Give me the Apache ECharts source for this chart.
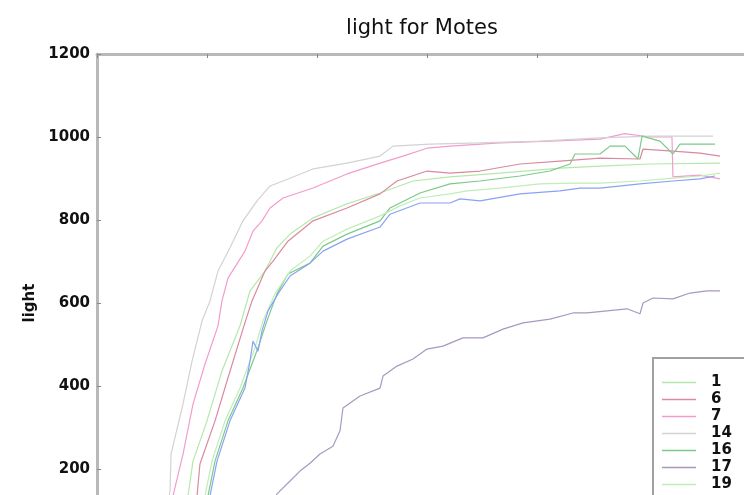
<!DOCTYPE html>
<html>
<head>
<meta charset="utf-8">
<script src="https://cdn.jsdelivr.net/npm/echarts@6/dist/echarts.min.js"></script>
<style>
html,body{margin:0;padding:0;background:#fff;overflow:hidden;width:744px;height:495px;}
#wrap{position:absolute;left:0;top:0;width:744px;height:495px;overflow:hidden;}
#chart{position:absolute;left:0;top:0;width:844px;height:640px;}
</style>
</head>
<body>
<div id="wrap"><div id="chart"></div></div>
<script>
const moteNames = ['1', '6', '7', '14', '16', '17', '19', '20'];
const legendNames = ['1', '6', '7', '14', '16', '17', '19'];
const moteColors = ['#b4e8aa', '#d98a9e', '#f29ccd', '#d2d2d2', '#7cc98a', '#a898c0', '#bfeeb6', '#8aa2f5'];
const yTicks = [0, 200, 400, 600, 800, 1000, 1200];

const mote1 = [[0.782,51],[0.827,135],[0.873,219],[1.000,316],[1.136,436],[1.300,545],[1.391,629],[1.527,677],[1.636,733],[1.755,766],[1.964,805],[2.273,839],[2.573,865],[2.873,894],[3.209,904],[3.664,913],[4.209,925],[4.573,930],[5.027,935],[5.664,937]];
const mote6 = [[0.864,51],[0.909,135],[0.936,212],[1.073,316],[1.182,412],[1.336,545],[1.409,605],[1.527,677],[1.600,701],[1.736,749],[1.964,798],[2.273,829],[2.573,863],[2.727,894],[3.000,918],[3.209,913],[3.482,918],[3.845,935],[4.209,942],[4.573,949],[4.936,947],[4.964,971],[5.236,966],[5.482,961],[5.664,954]];
const mote7 = [[0.645,63],[0.691,135],[0.782,236],[0.873,357],[0.982,453],[1.100,545],[1.136,605],[1.191,660],[1.345,725],[1.418,773],[1.500,798],[1.573,829],[1.691,853],[1.964,877],[2.273,911],[2.573,937],[2.782,954],[3.000,973],[3.209,978],[3.664,986],[4.118,990],[4.573,995],[4.800,1008],[5.027,1000],[5.227,1000],[5.236,904],[5.482,908],[5.664,899]];
const mote14 = [[0.591,51],[0.664,147],[0.673,236],[0.782,357],[0.864,460],[0.955,557],[1.027,605],[1.100,677],[1.209,733],[1.327,798],[1.455,846],[1.573,882],[1.691,894],[1.964,923],[2.273,937],[2.573,954],[2.691,978],[3.027,983],[3.482,986],[4.027,990],[4.573,998],[5.027,1002],[5.600,1002]];
const mote16 = [[0.964,51],[1.009,135],[1.073,219],[1.191,316],[1.327,395],[1.464,492],[1.545,557],[1.636,622],[1.736,670],[1.936,696],[2.055,737],[2.273,766],[2.573,798],[2.664,829],[2.936,865],[3.209,887],[3.482,894],[3.845,906],[4.118,918],[4.300,935],[4.345,959],[4.573,959],[4.664,978],[4.800,978],[4.918,947],[4.955,1002],[5.118,990],[5.236,959],[5.300,983],[5.618,983]];
const mote17 = [[1.573,99],[1.636,140],[1.755,171],[1.845,195],[1.936,214],[2.027,236],[2.145,255],[2.209,292],[2.236,347],[2.391,376],[2.573,395],[2.600,424],[2.727,448],[2.873,465],[3.000,489],[3.145,496],[3.327,516],[3.509,516],[3.691,537],[3.873,552],[4.118,561],[4.327,576],[4.455,576],[4.818,586],[4.936,574],[4.964,600],[5.055,612],[5.236,610],[5.391,624],[5.545,629],[5.664,629]];
const mote19 = [[0.936,51],[0.982,135],[1.045,219],[1.164,316],[1.300,395],[1.436,492],[1.509,557],[1.618,622],[1.755,677],[1.936,713],[2.055,749],[2.273,778],[2.573,810],[2.755,834],[2.936,853],[3.209,863],[3.364,870],[3.664,877],[4.027,887],[4.327,889],[4.573,889],[4.936,894],[5.236,901],[5.482,906],[5.664,913]];
const mote20 = [[0.982,51],[1.027,135],[1.091,219],[1.209,316],[1.345,395],[1.391,460],[1.418,508],[1.464,484],[1.500,533],[1.555,581],[1.645,622],[1.755,665],[1.936,696],[2.055,725],[2.273,754],[2.573,783],[2.664,814],[2.936,841],[3.209,841],[3.300,851],[3.482,846],[3.845,863],[4.209,870],[4.391,877],[4.573,877],[4.936,887],[5.236,894],[5.482,899],[5.618,906]];

const moteData = [mote1, mote6, mote7, mote14, mote16, mote17, mote19, mote20];

const chart = echarts.init(document.getElementById('chart'), null, {renderer: 'canvas'});
const axisGray = '#b9b9b9';
const labelFont = {fontFamily: 'DejaVu Sans', fontWeight: 'bold', fontSize: 15, color: '#111'};
const plainNum = v => String(v);

chart.setOption({
  animation: false,
  backgroundColor: '#fff',
  title: {
    text: 'light for Motes',
    left: 'center',
    top: 13,
    textStyle: {fontFamily: 'DejaVu Sans', fontWeight: 'normal', fontSize: 21, color: '#111'}
  },
  grid: {left: 97, top: 54, width: 660, height: 498, containLabel: false},
  xAxis: [
    {type: 'value', min: 0, max: 6, interval: 1, position: 'bottom',
     axisLine: {lineStyle: {color: axisGray, width: 3}},
     axisTick: {inside: true, length: 4, lineStyle: {color: '#888'}},
     axisLabel: Object.assign({formatter: plainNum}, labelFont), splitLine: {show: false}},
    {type: 'value', min: 0, max: 6, interval: 1, position: 'top',
     axisLine: {lineStyle: {color: axisGray, width: 3}},
     axisTick: {inside: true, length: 4, lineStyle: {color: '#888'}},
     axisLabel: {show: false}, splitLine: {show: false}}
  ],
  yAxis: {
    type: 'value', min: yTicks[0], max: yTicks[yTicks.length - 1], interval: 200,
    name: 'light', nameLocation: 'middle', nameGap: 59,
    nameTextStyle: {fontFamily: 'DejaVu Sans', fontWeight: 'bold', fontSize: 15, color: '#111'},
    axisLine: {show: true, lineStyle: {color: axisGray, width: 3}},
    axisTick: {show: true, inside: true, length: 4, lineStyle: {color: '#888'}},
    axisLabel: Object.assign({margin: 7, formatter: plainNum}, labelFont),
    splitLine: {show: false}
  },
  legend: {
    orient: 'vertical',
    left: 653, top: 358,
    padding: [17, 40, 30, 9],
    itemGap: 2, itemWidth: 34, itemHeight: 12,
    icon: 'path://M0,0L34,0L34,1.3L0,1.3Z',
    symbolKeepAspect: true,
    backgroundColor: '#fff',
    borderColor: '#a0a0a0', borderWidth: 2,
    textStyle: Object.assign({padding: [0, 0, 0, 10]}, labelFont),
    data: legendNames
  },
  series: moteNames.map((n, i) => ({
    name: n, type: 'line', data: moteData[i], symbol: 'none', showSymbol: false,
    xAxisIndex: 0,
    lineStyle: {color: moteColors[i], width: 1.2},
    itemStyle: {color: moteColors[i]}
  }))
});
</script>
</body>
</html>
